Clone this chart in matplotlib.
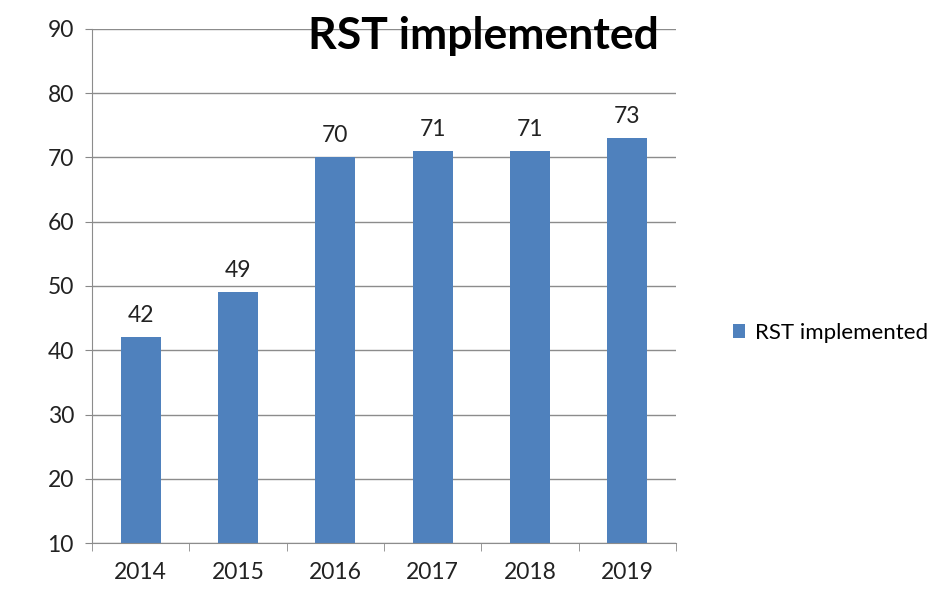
import matplotlib

matplotlib.use("Agg")
import matplotlib.pyplot as plt

years = ["2014", "2015", "2016", "2017", "2018", "2019"]
rst_implemented = [42, 49, 70, 71, 71, 73]
y_ticks = [10, 20, 30, 40, 50, 60, 70, 80, 90]
series_label = "RST implemented"

plt.rcParams["font.family"] = ["Lato", "DejaVu Sans"]

fig = plt.figure(figsize=(9.51, 5.94), dpi=100)
ax = fig.add_axes([92 / 951, 1 - 543 / 594, (676 - 92) / 951, (543 - 29) / 594])

x = list(range(len(years)))
bars = ax.bar(x, rst_implemented, width=0.41, bottom=0, color="#4F81BD",
              label=series_label, zorder=3)
ax.bar_label(bars, fmt="%d", padding=8, fontsize=16.5, color="#222222")

ax.set_ylim(10, 90)
ax.set_xlim(-0.5, len(years) - 0.5)
ax.set_yticks(y_ticks)
ax.set_xticks(x)
ax.set_xticklabels(years)
ax.set_xticks([i - 0.5 for i in range(len(years) + 1)], minor=True)
ax.tick_params(axis="x", which="major", length=0, pad=14, labelsize=16.5, labelcolor="#222222")
ax.tick_params(axis="x", which="minor", length=6, color="#888888", direction="out")
ax.tick_params(axis="y", length=5, color="#888888", labelsize=16.5, labelcolor="#222222", pad=8)

ax.grid(axis="y", color="#8c8c8c", linewidth=1, zorder=0)
for side in ("top", "right"):
    ax.spines[side].set_visible(False)
for side in ("left", "bottom"):
    ax.spines[side].set_color("#8c8c8c")
    ax.spines[side].set_zorder(4)

fig.text(483 / 951, 1 - 36 / 594, "RST implemented", ha="center", va="center",
         fontsize=32, fontweight="bold", color="#000000")

ax.legend(loc="center left", bbox_to_anchor=(733 / 951, 1 - 333 / 594),
          bbox_transform=fig.transFigure, frameon=False, fontsize=16,
          borderaxespad=0, borderpad=0,
          handlelength=0.55, handleheight=0.55, handletextpad=0.45)

fig.savefig("out.png", dpi=100)
